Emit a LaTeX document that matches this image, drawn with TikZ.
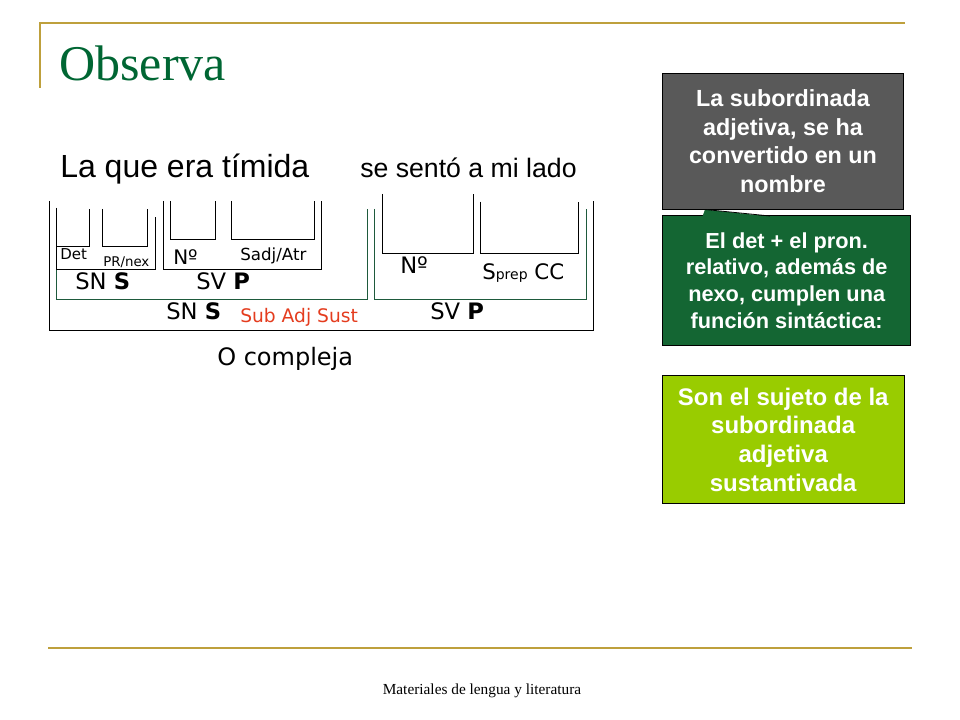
\documentclass[tikz,border=0pt]{standalone}
\usepackage{fontspec}
\setmainfont{Liberation Serif}
\newfontfamily\arial{Liberation Sans}
\newfontfamily\verd{DejaVu Sans}
\definecolor{gold}{RGB}{190,160,60}
\definecolor{titlegreen}{RGB}{0,102,51}
\definecolor{brk}{RGB}{30,90,60}
\definecolor{subred}{RGB}{228,60,30}
\definecolor{grayfill}{RGB}{89,89,89}
\definecolor{dkgreen}{RGB}{20,102,51}
\definecolor{ltgreen}{RGB}{153,204,0}
\begin{document}
\begin{tikzpicture}[x=0.75pt,y=-0.75pt]
\useasboundingbox (0,0) rectangle (960,720);
\tikzset{
  bk/.style={draw=black,line width=0.75pt},
  gk/.style={draw=brk,line width=0.75pt},
  lbl/.style={inner sep=0pt,anchor=base west},
  goldline/.style={draw=gold,line width=2pt},
  infobox/.style={draw=black,line width=0.75pt,text=white,align=center,inner sep=0pt,font=\arial\bfseries},
}
% frame
\draw[goldline] (40,88) -- (40,23) -- (905,23);
\draw[goldline] (48,648) -- (912,648);
\node[inner sep=0pt,anchor=base,font=\fontsize{11.5}{12}\selectfont] (foot) at (482,694) {Materiales de lengua y literatura};
\node[lbl,text=titlegreen,font=\fontsize{37.5}{40}\selectfont] (title) at (59,81) {Observa};
% sentence
\node[lbl,font=\arial\fontsize{24}{28}\selectfont] (s1) at (60,178) {La que era tímida};
\node[lbl,font=\arial\fontsize{20}{24}\selectfont] (s2) at (360,178) {se sentó a mi lado};
% brackets
\draw[gk] (56.7,208) -- (56.7,299.5) -- (367.3,299.5) -- (367.3,209);
\draw[gk] (374.3,209) -- (374.3,300) -- (586.7,300) -- (586.7,209);
\draw[bk] (49.5,201) -- (49.5,330) -- (593.3,330) -- (593.3,201);
\draw[bk] (56.7,208) -- (56.7,269.3) -- (155.3,269.3) -- (155.3,216.7);
\draw[bk] (56.7,209) -- (56.7,246.7) -- (89.3,246.7) -- (89.3,209);
\draw[bk] (102,209) -- (102,246.7) -- (147.3,246.7) -- (147.3,209);
\draw[bk] (163.3,201) -- (163.3,269.3) -- (321,269.3) -- (321,201);
\draw[bk] (170,201) -- (170,239.3) -- (215.5,239.3) -- (215.5,201);
\draw[bk] (231.3,201) -- (231.3,239.3) -- (314.3,239.3) -- (314.3,201);
\draw[bk] (382.3,194) -- (382.3,254) -- (473.3,254) -- (473.3,194);
\draw[bk] (480,201.7) -- (480,254) -- (578.7,254) -- (578.7,201.7);
% labels
\node[lbl,font=\verd\fontsize{11.25}{12}\selectfont] (det) at (60,260) {Det};
\node[lbl,font=\verd\fontsize{10}{11}\selectfont] (pr) at (103,267) {PR/nex};
\node[lbl,font=\verd\fontsize{15}{16}\selectfont] (n1) at (173,265) {Nº};
\node[lbl,font=\verd\fontsize{12.5}{13}\selectfont] (sadj) at (240,261) {Sadj/Atr};
\node[lbl,font=\verd\fontsize{17}{18}\selectfont] (sn1) at (75,290) {SN \textbf{S}};
\node[lbl,font=\verd\fontsize{17}{18}\selectfont] (sv1) at (196,290) {SV \textbf{P}};
\node[lbl,font=\verd\fontsize{17}{18}\selectfont] (sn2) at (166,320) {SN \textbf{S}};
\node[lbl,text=subred,font=\verd\fontsize{14}{15}\selectfont] (sub) at (240,322) {Sub Adj Sust};
\node[lbl,font=\verd\fontsize{18}{19}\selectfont] (oc) at (217,365) {O compleja};
\node[lbl,font=\verd\fontsize{17}{18}\selectfont] (n2) at (400,274) {Nº};
\node[lbl,font=\verd\fontsize{16}{17}\selectfont] (sp) at (482,280) {S{\fontsize{10.5}{11}\selectfont prep} CC};
\node[lbl,font=\verd\fontsize{17}{18}\selectfont] (sv2) at (430,320) {SV \textbf{P}};
% right boxes
\node[infobox,fill=grayfill,minimum width=180.5pt,minimum height=101.8pt,font=\arial\bfseries\fontsize{17.5}{21.4}\selectfont] (gbox) at (783,141.2)
  {La subordinada\\adjetiva, se ha\\convertido en un\\nombre};
\node[infobox,fill=dkgreen,minimum width=186pt,minimum height=96.75pt,font=\arial\bfseries\fontsize{16.3}{20}\selectfont] (dbox) at (786.7,280.5)
  {El det + el pron.\\relativo, además de\\nexo, cumplen una\\función sintáctica:};
\fill[dkgreen] (702.5,216.5) -- (705,209.5) -- (770,216.5) -- cycle;
\draw[black,line width=0.6pt] (705,209.5) -- (770,216);
\node[infobox,fill=ltgreen,minimum width=181.3pt,minimum height=95.7pt,font=\arial\bfseries\fontsize{18}{21.5}\selectfont] (lbox) at (783.2,439.5)
  {Son el sujeto de la\\subordinada\\adjetiva\\sustantivada};
\end{tikzpicture}
\end{document}
